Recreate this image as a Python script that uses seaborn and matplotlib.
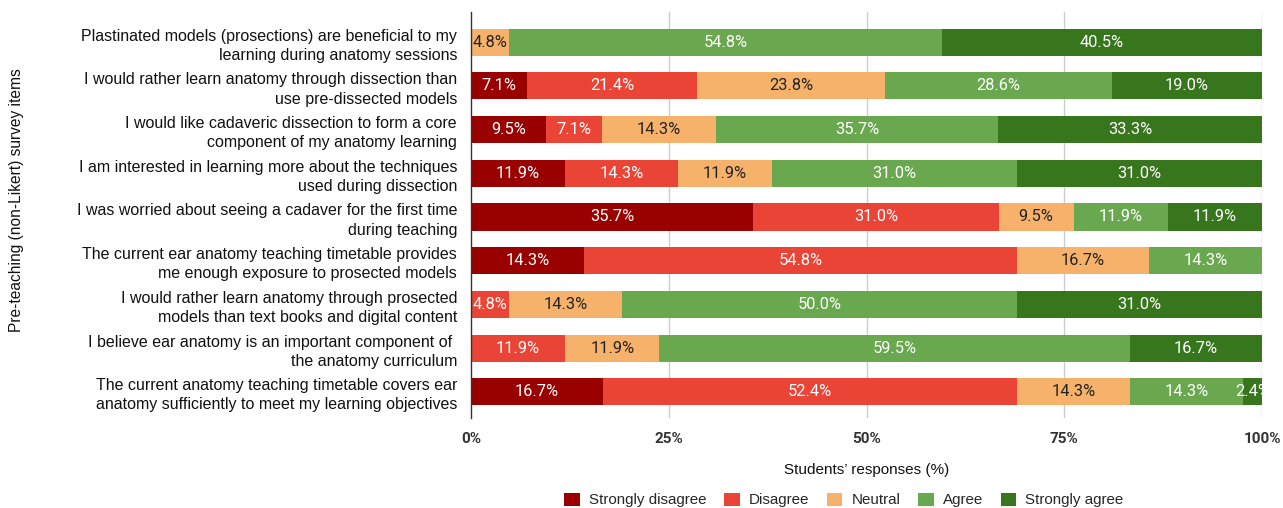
import numpy as np
import pandas as pd
import matplotlib
matplotlib.use("Agg")
import matplotlib.pyplot as plt
from matplotlib.patches import Patch
import seaborn as sns

items = [
    "Plastinated models (prosections) are beneficial to my\nlearning during anatomy sessions",
    "I would rather learn anatomy through dissection than\nuse pre-dissected models",
    "I would like cadaveric dissection to form a core\ncomponent of my anatomy learning",
    "I am interested in learning more about the techniques\nused during dissection",
    "I was worried about seeing a cadaver for the first time\nduring teaching",
    "The current ear anatomy teaching timetable provides\nme enough exposure to prosected models",
    "I would rather learn anatomy through prosected\nmodels than text books and digital content",
    "I believe ear anatomy is an important component of \nthe anatomy curriculum",
    "The current anatomy teaching timetable covers ear\nanatomy sufficiently to meet my learning objectives",
]
responses = ["Strongly disagree", "Disagree", "Neutral", "Agree", "Strongly agree"]
strongly_disagree = [0, 7.1, 9.5, 11.9, 35.7, 14.3, 0, 0, 16.7]
disagree = [0, 21.4, 7.1, 14.3, 31.0, 54.8, 4.8, 11.9, 52.4]
neutral = [4.8, 23.8, 14.3, 11.9, 9.5, 16.7, 14.3, 11.9, 14.3]
agree = [54.8, 28.6, 35.7, 31.0, 11.9, 14.3, 50.0, 59.5, 14.3]
strongly_agree = [40.5, 19.0, 33.3, 31.0, 11.9, 0, 31.0, 16.7, 2.4]
colors = ["#990000", "#e94436", "#f6b26b", "#6aa84f", "#38761d"]
text_colors = ["white", "white", "#222222", "white", "white"]

vals = np.array([strongly_disagree, disagree, neutral, agree, strongly_agree])
cum = np.cumsum(vals, axis=0)
cum = cum / cum[-1] * 100
starts = np.vstack([np.zeros(len(items)), cum[:-1]])

sns.set_theme(style="white")
plt.rcParams["font.family"] = ["Liberation Sans", "DejaVu Sans"]

fig = plt.figure(figsize=(12.83, 5.08), dpi=100)
ax = fig.add_axes([471 / 1283, 1 - 418 / 508, (1262 - 471) / 1283, (418 - 12) / 508])

for xv in [25, 50, 75, 100]:
    ax.axvline(xv, color="#cccccc", lw=1, zorder=0)

for k in range(len(responses) - 1, -1, -1):
    df = pd.DataFrame({"item": items, "value": cum[k]})
    sns.barplot(data=df, y="item", x="value", orient="h", color=colors[k],
                width=0.62, ax=ax, saturation=1, edgecolor="none", zorder=2)

for k in range(len(responses)):
    for i in range(len(items)):
        v = vals[k, i]
        if v <= 0:
            continue
        xc = starts[k, i] + (cum[k, i] - starts[k, i]) / 2
        ax.text(xc, i, f"{v:.1f}%", ha="center", va="center", fontsize=11.8,
                color=text_colors[k], family="Roboto", zorder=3)

ax.set_xlim(0, 100)
ax.set_ylim(8.6, -0.69)
ax.set_xticks([0, 25, 50, 75, 100])
ax.set_xticklabels(["0%", "25%", "50%", "75%", "100%"], fontsize=11,
                   family="Roboto", fontweight="bold", color="#333333")
ax.tick_params(axis="x", length=0, pad=10)
ax.tick_params(axis="y", length=0, pad=10)
for lab in ax.get_yticklabels():
    lab.set_fontsize(11.5)
    lab.set_color("#111111")
    lab.set_linespacing(1.35)
ax.set_ylabel("")
ax.set_xlabel("Students\u2019 responses (%)", fontsize=11,
              color="#111111", labelpad=12)
for s in ["top", "right", "bottom"]:
    ax.spines[s].set_visible(False)
ax.spines["left"].set_color("#333333")
ax.spines["left"].set_linewidth(1)

fig.text(17 / 1283, 1 - 200 / 508, "Pre-teaching (non-Likert) survey items",
         rotation=90, ha="center", va="center", fontsize=11.2, color="#111111")

handles = [Patch(facecolor=c, edgecolor="none") for c in colors]
fig.legend(handles, responses, loc="center", bbox_to_anchor=(844 / 1283, 1 - 500 / 508),
           ncol=5, frameon=False, handlelength=1.0, handleheight=1.0,
           handletextpad=0.6, columnspacing=1.2, prop={"family": "Liberation Sans", "size": 10.9})

fig.savefig("out.png", dpi=100)
